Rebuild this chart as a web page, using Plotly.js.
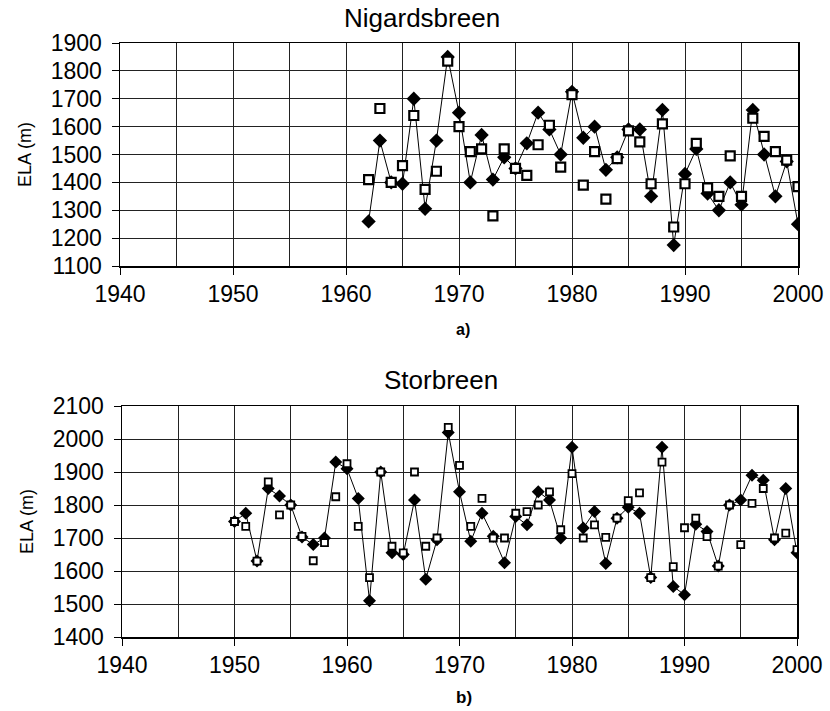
<!DOCTYPE html>
<html>
<head>
<meta charset="utf-8">
<script src="https://cdn.plot.ly/plotly-3.0.1.min.js"></script>
<style>html,body{margin:0;padding:0;background:#fff;}#chart{width:830px;height:711px;}</style>
</head>
<body>
<div id="chart"></div>
<script>
// Nigardsbreen (panel a)
const nigYears = [1962,1963,1964,1965,1966,1967,1968,1969,1970,1971,1972,1973,1974,1975,1976,1977,1978,1979,1980,1981,1982,1983,1984,1985,1986,1987,1988,1989,1990,1991,1992,1993,1994,1995,1996,1997,1998,1999,2000];
const nigFilled = [1260,1550,1400,1395,1700,1305,1550,1850,1650,1400,1570,1410,1490,1450,1540,1650,1590,1500,1725,1560,1600,1445,1490,1590,1590,1350,1660,1175,1430,1520,1360,1300,1400,1320,1660,1500,1350,1475,1250];
const nigOpen   = [1410,1665,1400,1460,1640,1375,1440,1835,1600,1510,1520,1280,1520,1450,1425,1535,1605,1455,1715,1390,1510,1340,1485,1585,1545,1395,1610,1240,1395,1540,1380,1350,1495,1350,1630,1565,1510,1480,1385];

// Storbreen (panel b)
const stoYears = [1950,1951,1952,1953,1954,1955,1956,1957,1958,1959,1960,1961,1962,1963,1964,1965,1966,1967,1968,1969,1970,1971,1972,1973,1974,1975,1976,1977,1978,1979,1980,1981,1982,1983,1984,1985,1986,1987,1988,1989,1990,1991,1992,1993,1994,1995,1996,1997,1998,1999,2000];
const stoFilled = [1750,1775,1630,1850,1827,1800,1703,1680,1700,1930,1910,1820,1510,1900,1655,1650,1815,1575,1695,2020,1840,1690,1775,1705,1625,1765,1740,1840,1815,1700,1975,1730,1780,1623,1760,1793,1775,1580,1975,1553,1528,1742,1720,1615,1800,1815,1890,1875,1695,1850,1655];
const stoOpen   = [1750,1735,1630,1870,1770,1800,1705,1631,1686,1825,1925,1735,1580,1900,1675,1655,1900,1675,1700,2035,1920,1735,1820,1700,1700,1775,1780,1800,1840,1725,1895,1700,1740,1702,1760,1813,1837,1580,1930,1613,1731,1760,1704,1615,1800,1680,1805,1850,1700,1715,1665];

const titles = ["Nigardsbreen", "Storbreen"];
const panelLabels = ["a)", "b)"];
const yTitle = "ELA (m)";

const W = 830, H = 711;
const FONT = "Liberation Sans, Arial, sans-serif";

const traces = [
  {x: nigYears, y: nigFilled, xaxis: 'x', yaxis: 'y', mode: 'lines+markers', type: 'scatter',
   line: {color: '#000', width: 1}, marker: {symbol: 'diamond', size: 11, color: '#000'}},
  {x: nigYears, y: nigOpen, xaxis: 'x', yaxis: 'y', mode: 'markers', type: 'scatter',
   marker: {symbol: 'square', size: 9, color: '#fff', line: {color: '#000', width: 2.2}}},
  {x: stoYears, y: stoFilled, xaxis: 'x2', yaxis: 'y2', mode: 'lines+markers', type: 'scatter',
   line: {color: '#000', width: 1}, marker: {symbol: 'diamond', size: 10, color: '#000'}},
  {x: stoYears, y: stoOpen, xaxis: 'x2', yaxis: 'y2', mode: 'markers', type: 'scatter',
   marker: {symbol: 'square', size: 7, color: '#fff', line: {color: '#000', width: 1.8}}}
];

function xAxis(x0, x1, anchor) {
  return {
    domain: [x0 / W, x1 / W], anchor: anchor, range: [1940, 2000],
    tick0: 1940, dtick: 10, ticks: 'outside', ticklen: 7, tickcolor: '#000', tickwidth: 1,
    showgrid: true, gridcolor: '#222', gridwidth: 1,
    minor: {dtick: 5, tick0: 1940, showgrid: true, gridcolor: '#222', gridwidth: 1, ticks: ''},
    showline: true, linecolor: '#000', linewidth: 1.5, mirror: true, zeroline: false,
    tickfont: {family: FONT, size: 23, color: '#000'}, fixedrange: true
  };
}
function yAxis(y0, y1, r0, r1, anchor) {
  return {
    domain: [1 - y1 / H, 1 - y0 / H], anchor: anchor, range: [r0, r1],
    dtick: 100, ticks: 'outside', ticklen: 7, tickcolor: '#000', tickwidth: 1,
    ticklabelstandoff: 5,
    showgrid: true, gridcolor: '#222', gridwidth: 1,
    showline: true, linecolor: '#000', linewidth: 1.5, mirror: true, zeroline: false,
    tickfont: {family: FONT, size: 23, color: '#000'}, fixedrange: true,
    title: {text: yTitle, font: {family: FONT, size: 18, color: '#000'}, standoff: 14}
  };
}

const layout = {
  width: W, height: H, margin: {l: 0, r: 0, t: 0, b: 0},
  paper_bgcolor: '#fff', plot_bgcolor: '#fff', showlegend: false,
  font: {family: FONT, color: '#000'},
  xaxis: xAxis(120, 798, 'y'),
  yaxis: yAxis(43, 266, 1100, 1900, 'x'),
  xaxis2: xAxis(122, 797, 'y2'),
  yaxis2: yAxis(406, 637, 1400, 2100, 'x2'),
  annotations: [
    {text: titles[0], xref: 'paper', yref: 'paper', x: 422 / W, y: 1 - 18 / H, showarrow: false,
     xanchor: 'center', yanchor: 'middle', font: {family: FONT, size: 26, color: '#000'}},
    {text: titles[1], xref: 'paper', yref: 'paper', x: 441 / W, y: 1 - 380 / H, showarrow: false,
     xanchor: 'center', yanchor: 'middle', font: {family: FONT, size: 26, color: '#000'}},
    {text: '<b>' + panelLabels[0] + '</b>', xref: 'paper', yref: 'paper', x: 463 / W, y: 1 - 329 / H, showarrow: false,
     xanchor: 'center', yanchor: 'middle', font: {family: FONT, size: 16, color: '#000'}},
    {text: '<b>' + panelLabels[1] + '</b>', xref: 'paper', yref: 'paper', x: 464 / W, y: 1 - 697 / H, showarrow: false,
     xanchor: 'center', yanchor: 'middle', font: {family: FONT, size: 17, color: '#000'}}
  ]
};

Plotly.newPlot('chart', traces, layout, {displayModeBar: false, staticPlot: true});
</script>
</body>
</html>
